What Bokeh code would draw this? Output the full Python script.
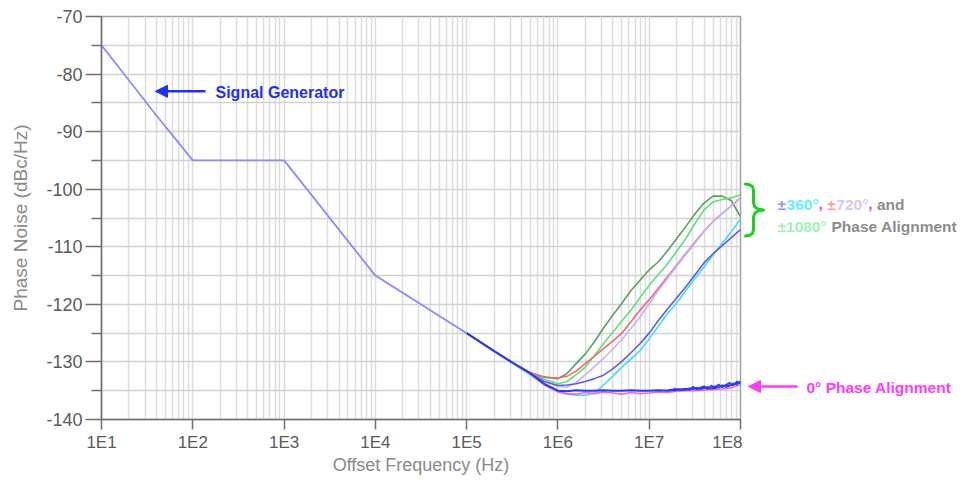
from bokeh.plotting import figure
from bokeh.layouts import row
from bokeh.models import (FixedTicker, CustomJSTickFormatter, Label, Arrow,
                          NormalHead, Range1d)
from bokeh.embed import file_html
from bokeh.resources import INLINE

# ---------------- data ----------------
sg_freq = [10, 40, 100, 1000, 10000, 100000]
sg_pn = [-75, -87.2, -95, -95, -115, -125]

meas_exp = [5.0, 5.3, 5.5, 5.7, 5.85, 6.0, 6.1, 6.2, 6.3, 6.4, 6.5, 6.6, 6.7,
            6.8, 6.9, 7.0, 7.1, 7.2, 7.3, 7.4, 7.5, 7.6, 7.7, 7.8, 7.9, 8.0]

pn_1080_a = [-125, -128.1, -130.1, -131.9, -132.6, -132.9, -132.0, -130.3, -128.6,
             -126.5, -124.1, -121.9, -119.8, -117.6, -115.8, -114.0, -112.6,
             -110.7, -108.6, -106.5, -104.3, -102.4, -101.2, -101.2, -102.0, -104.8]
pn_1080_b = [-125, -128.1, -130.1, -132.0, -133.0, -133.8, -133.4, -132.2, -130.9,
             -128.9, -126.8, -124.9, -122.9, -121.0, -118.8, -116.7, -114.8,
             -113.0, -110.8, -108.6, -106.0, -103.6, -102.2, -101.8, -101.5, -101.0]
pn_720_a = [-125, -128.1, -130.1, -131.9, -132.7, -132.8, -132.5, -131.6, -130.3,
            -129.0, -127.7, -126.4, -125.0, -123.0, -121.0, -119.2, -117.2,
            -115.2, -113.2, -111.2, -109.2, -107.3, -105.6, -104.2, -102.9, -101.5]
pn_720_b = [-125, -128.1, -130.1, -132.0, -133.3, -134.2, -134.4, -133.6, -132.2,
            -130.8, -129.4, -127.8, -126.1, -124.2, -122.2, -119.9, -117.6,
            -115.5, -113.4, -111.4, -109.4, -107.4, -105.6, -104.2, -102.9, -101.6]
pn_360_a = [-125, -128.1, -130.1, -132.0, -133.4, -134.1, -134.0, -133.8, -133.4,
            -132.9, -132.3, -131.2, -129.9, -128.4, -126.8, -125.0, -122.8,
            -120.8, -118.9, -117.0, -114.9, -112.8, -111.2, -109.8, -108.4, -107.0]
pn_360_b = [-125, -128.1, -130.2, -132.3, -134.0, -135.2, -135.6, -135.8, -135.8,
            -135.4, -134.0, -132.5, -130.9, -129.5, -128.0, -126.0, -123.8,
            -121.6, -119.8, -117.6, -115.5, -113.5, -111.4, -109.4, -107.4, -105.2]
pn_0_a = [-125, -128.1, -130.1, -132.0, -133.8, -135.0, -135.1, -134.9, -135.0,
          -135.0, -134.9, -135.0, -135.0, -134.9, -135.0, -135.0, -134.9,
          -135.0, -134.8, -134.8, -134.6, -134.5, -134.6, -134.2, -134.0, -133.5]
pn_0_b = [-125, -128.2, -130.2, -132.1, -134.0, -135.2, -135.5, -135.6, -135.3,
          -135.5, -135.2, -135.4, -135.6, -135.3, -135.5, -135.4, -135.2,
          -135.3, -135.1, -135.0, -135.0, -134.9, -134.8, -134.7, -134.5, -133.9]
tail_exp = [7.2, 7.24, 7.28, 7.32, 7.36, 7.4, 7.44, 7.48, 7.52, 7.56, 7.6, 7.64,
            7.68, 7.72, 7.76, 7.8, 7.84, 7.88, 7.92, 7.96, 8.0]
pn_0_tail_a = [-135.0, -134.8, -135.0, -134.7, -134.9, -134.6, -134.9, -134.3,
               -134.8, -134.5, -134.2, -134.7, -134.1, -134.5, -133.9, -134.4,
               -134.0, -133.6, -134.1, -133.4, -133.8]
pn_0_tail_b = [-134.9, -135.0, -134.6, -135.0, -134.7, -134.9, -134.5, -134.8,
               -134.4, -134.8, -134.6, -134.3, -134.6, -134.2, -134.5, -134.0,
               -134.4, -134.2, -133.7, -134.0, -133.3]

x_decades = [1, 2, 3, 4, 5, 6, 7, 8]
y_major = [-140, -130, -120, -110, -100, -90, -80, -70]
y_minor = [-135, -125, -115, -105, -95, -85, -75]

meas_freq = [10 ** e for e in meas_exp]
tail_freq = [10 ** e for e in tail_exp]

# ---------------- layout constants ----------------
W, H = 958, 477
FRAME_L, FRAME_T, FRAME_R, FRAME_B = 101, 16, 740, 420
MAIN_W = FRAME_R + 2
Y0, Y1 = -70, -140


def ypx(py):
    """picture pixel row -> y data value (frames of both panels are aligned)"""
    return Y0 + (py - FRAME_T) * (Y1 - Y0) / (FRAME_B - FRAME_T)


# ---------------- main figure ----------------
yr = Range1d(Y1, Y0)
p = figure(width=MAIN_W, height=H, x_axis_type="log",
           x_range=Range1d(10, 1e8), y_range=yr,
           output_backend="svg", toolbar_location=None,
           min_border_left=FRAME_L, min_border_right=MAIN_W - FRAME_R,
           min_border_top=FRAME_T, min_border_bottom=H - FRAME_B,
           background_fill_color="white", border_fill_color="white")
p.outline_line_color = "#a0a0a0"
p.outline_line_width = 1.5

p.xaxis.ticker = FixedTicker(ticks=[10 ** k for k in x_decades],
                             minor_ticks=[m * 10 ** k for k in x_decades[:-1]
                                          for m in range(2, 10)])
p.xaxis.formatter = CustomJSTickFormatter(
    code="return '1E' + Math.round(Math.log10(tick));")
p.yaxis.ticker = FixedTicker(ticks=y_major, minor_ticks=y_minor)
p.yaxis.formatter = CustomJSTickFormatter(code="return tick.toFixed(0);")

for ax in (p.xaxis, p.yaxis):
    ax.axis_line_color = "#707070"
    ax.axis_line_width = 1.5
    ax.major_tick_line_color = "#707070"
    ax.major_tick_line_width = 1.5
    ax.minor_tick_line_color = "#707070"
    ax.minor_tick_line_width = 1.5
    ax.major_tick_in = 0
    ax.minor_tick_in = 0
    ax.major_label_text_font = "Liberation Sans"
    ax.major_label_text_font_size = "17px"
    ax.major_label_text_color = "#5a5a5a"
    ax.axis_label_text_font = "Liberation Sans"
    ax.axis_label_text_font_size = "18px"
    ax.axis_label_text_font_style = "normal"
    ax.axis_label_text_color = "#8a8a8a"

p.yaxis.major_label_text_font_size = "18px"
p.yaxis.axis_label_text_font_size = "19px"

p.xaxis.major_tick_out = 10
p.xaxis.minor_tick_line_color = None
p.xaxis.major_label_standoff = 3
p.xaxis.axis_label = "Offset Frequency (Hz)"
p.xaxis.axis_label_standoff = 0

p.yaxis.major_tick_out = 16
p.yaxis.minor_tick_out = 10
p.yaxis.major_label_standoff = 3
p.yaxis.axis_label = "Phase Noise (dBc/Hz)"
p.yaxis.axis_label_standoff = 12

p.xgrid.grid_line_color = "#dcdcdc"
p.xgrid.grid_line_width = 1.5
p.xgrid.minor_grid_line_color = "#dcdcdc"
p.xgrid.minor_grid_line_width = 1.5
p.ygrid.grid_line_color = "#d2d2d2"
p.ygrid.grid_line_width = 1.5
p.ygrid.minor_grid_line_color = "#d2d2d2"
p.ygrid.minor_grid_line_width = 1.5

# ---------------- curves ----------------
p.line(meas_freq, pn_1080_a, line_color="#5f9e62", line_width=1.6)
p.line(meas_freq, pn_1080_b, line_color="#5ee07a", line_width=1.6)
p.line(meas_freq, pn_720_a, line_color="#ee6b6b", line_width=1.6)
p.line(meas_freq, pn_720_b, line_color="#c4b4ff", line_width=1.6)
p.line(meas_freq, pn_360_b, line_color="#45dcf2", line_width=1.6)
p.line(meas_freq, pn_360_a, line_color="#5c5ce8", line_width=1.6)
p.line(meas_freq, pn_0_b, line_color="#ee66ee", line_width=1.6)
p.line(meas_freq, pn_0_a, line_color="#2a3be6", line_width=2.0)
p.line(tail_freq, pn_0_tail_b, line_color="#3a4af0", line_width=1.4)
p.line(tail_freq, pn_0_tail_a, line_color="#2a3be6", line_width=1.6)
p.line(sg_freq, sg_pn, line_color="#8a8aff", line_width=1.8)

# ---------------- annotations (main) ----------------
ann_font = "Liberation Sans"
sg_blue = "#1f2ff5"
mag = "#ff3cf0"

p.add_layout(Label(x=10, y=ypx(92), x_offset=114, text="Signal Generator",
                   text_font=ann_font, text_font_style="bold",
                   text_font_size="16px", text_color=sg_blue,
                   text_baseline="middle", text_align="left"))
p.add_layout(Arrow(x_start=137.8, y_start=ypx(91), x_end=39.0, y_end=ypx(91),
                   line_color=sg_blue, line_width=2.5,
                   end=NormalHead(size=12, fill_color=sg_blue, line_color=sg_blue)))

# ---------------- side panel (x in picture pixels, y shared) ----------------
p2 = figure(width=W - MAIN_W, height=H, x_range=Range1d(MAIN_W, W),
            y_range=yr, x_axis_location=None, y_axis_location=None,
            output_backend="svg", toolbar_location=None, min_border=0,
            min_border_top=FRAME_T, min_border_bottom=H - FRAME_B,
            outline_line_color=None, background_fill_color="white",
            border_fill_color="white")
p2.grid.visible = False

# brace
brace_x = [745, 749, 752, 753, 753, 754.5, 758, 763, 758, 754.5, 753, 753, 752, 749, 745]
brace_py = [184, 184.6, 186.5, 190, 203, 207, 209.3, 210, 210.7, 213, 217, 230, 233.5, 235.4, 236]
p2.line(brace_x, [ypx(v) for v in brace_py], line_color="#1ed01e", line_width=3,
        line_join="round", line_cap="round")

fs = 15.5
pieces1 = [("±", "#a08cf0", 0.584), ("360°", "#66eeff", 2.068),
           (",", "#ff3ccf", 0.556), ("±", "#ff9a9a", 0.584),
           ("720°", "#d6c8ff", 2.068), (",", "#ff3ccf", 0.556),
           ("and", "#8c8c8c", 0)]
xpos = 777
for txt, col, w in pieces1:
    p2.add_layout(Label(x=xpos, y=ypx(204), text=txt, text_font=ann_font,
                        text_font_style="bold", text_font_size=f"{fs}px",
                        text_color=col, text_baseline="middle", text_align="left"))
    xpos += w * fs
pieces2 = [("±1080°", "#a6f0b8", 3.486), ("Phase Alignment", "#8c8c8c", 0)]
xpos = 777
for txt, col, w in pieces2:
    p2.add_layout(Label(x=xpos, y=ypx(227), text=txt, text_font=ann_font,
                        text_font_style="bold", text_font_size=f"{fs}px",
                        text_color=col, text_baseline="middle", text_align="left"))
    xpos += w * fs

p2.add_layout(Label(x=806, y=ypx(388), text="0° Phase Alignment", text_font=ann_font,
                    text_font_style="bold", text_font_size="15.5px",
                    text_color=mag, text_baseline="middle", text_align="left"))
p2.add_layout(Arrow(x_start=797, y_start=ypx(387), x_end=748, y_end=ypx(387),
                    line_color=mag, line_width=2.5,
                    end=NormalHead(size=12, fill_color=mag, line_color=mag)))

layout = row(p, p2)
open("out.html", "w").write(file_html(layout, INLINE))
